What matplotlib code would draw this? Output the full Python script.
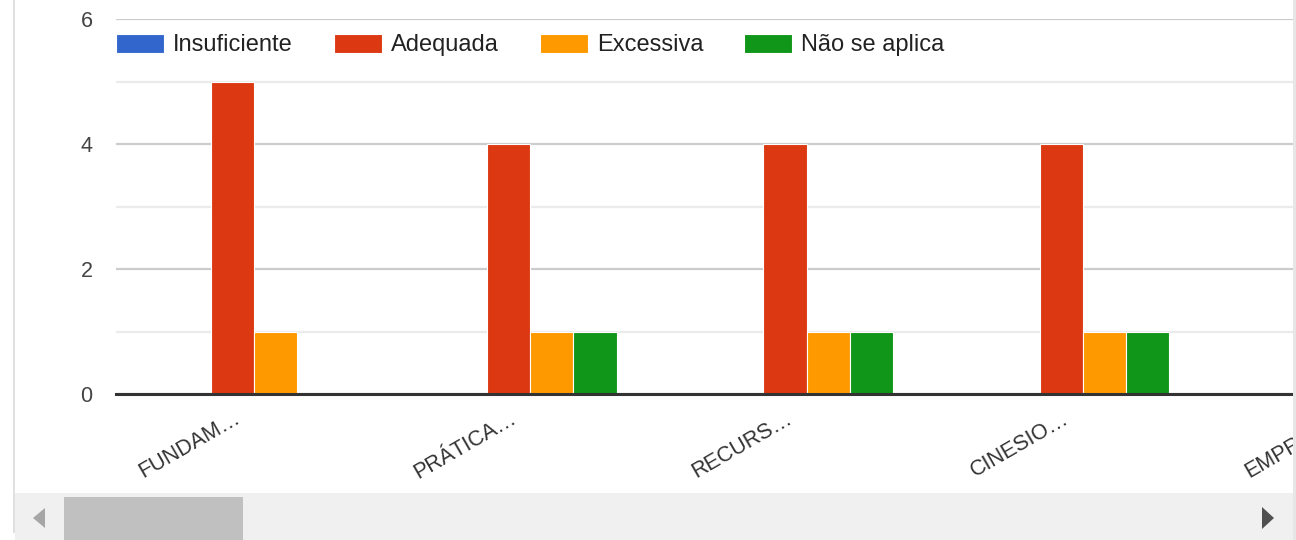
import matplotlib
matplotlib.use("Agg")
import matplotlib.pyplot as plt
import numpy as np
from matplotlib.patches import Rectangle, Polygon
from matplotlib.transforms import Bbox, TransformedBbox, ScaledTranslation

plt.rcParams['font.family'] = ['Liberation Sans', 'DejaVu Sans']

# data
categories = ["FUNDAM…", "PRÁTICA…", "RECURS…", "CINESIO…", "EMPREE…"]
series_names = ["Insuficiente", "Adequada", "Excessiva", "Não se aplica"]
insuficiente = [0, 0, 0, 0]
adequada = [5, 4, 4, 4]
excessiva = [1, 1, 1, 1]
nao_se_aplica = [0, 1, 1, 1]
series_values = [insuficiente, adequada, excessiva, nao_se_aplica]
colors = ["#3366cc", "#dc3912", "#ff9900", "#109618"]
y_major = [0, 2, 4, 6]
y_minor = [1, 3, 5]

W, H = 1296, 540
fig = plt.figure(figsize=(W / 100, H / 100), dpi=100)
fig.patch.set_facecolor("white")

# plot area in pixels: left 116, right 1293, y=0 at 394, y=6 at 19
ax = fig.add_axes([116 / W, 1 - 394 / H, (1293 - 116) / W, (394 - 19) / H])
ax.set_facecolor("white")

bar_w = 0.156
x = np.arange(len(adequada))
n = len(series_values)
for i, (name, vals, c) in enumerate(zip(series_names, series_values, colors)):
    offs = (i - (n - 1) / 2) * bar_w
    ax.bar(x + offs, vals, width=bar_w, color=c, edgecolor="white",
           linewidth=0.8, label=name, zorder=3)

ax.set_ylim(0, 6)
ax.set_xlim(-0.5, (1293 - 255) / 276)

ax.set_yticks(y_major)
ax.set_yticks(y_minor, minor=True)
ax.grid(axis="y", which="major", color="#cccccc", linewidth=1.6, zorder=0)
ax.grid(axis="y", which="minor", color="#ebebeb", linewidth=1.6, zorder=0)
ax.axhline(0, color="#333333", linewidth=2.2, zorder=4, clip_on=False)
for s in ax.spines.values():
    s.set_visible(False)
ax.tick_params(axis="y", which="both", length=0, pad=17, labelsize=15.5,
               labelcolor="#444444")
ax.set_xticks([])

# rotated category labels, anchored at their right end below each group
clip = TransformedBbox(Bbox([[0, 0], [1293 / W, 1]]), fig.transFigure)
lab_tr = ax.get_xaxis_transform() + ScaledTranslation(-16 / 100, -23 / 100, fig.dpi_scale_trans)
for i, cat in enumerate(categories):
    t = ax.text(i, 0, cat, transform=lab_tr, rotation=30, ha="right", va="center",
                rotation_mode="anchor", fontsize=15.5, color="#333333", clip_on=True)
    t.set_clip_box(clip)

fs = 17
ax.legend(loc="center left", bbox_to_anchor=(116 / W, 1 - 45 / H),
          bbox_transform=fig.transFigure, ncol=4, frameon=False,
          fontsize=fs, handlelength=48 / 23.6, handleheight=20 / 23.6,
          handletextpad=0.38, columnspacing=1.74, borderpad=0,
          borderaxespad=0, labelcolor="#222222")

# frame / scrollbar decoration (pixel coords)
def px_rect(x0, y0, x1, y1, color, z=1):
    fig.patches.append(Rectangle((x0 / W, 1 - y1 / H), (x1 - x0) / W, (y1 - y0) / H,
                                 transform=fig.transFigure, facecolor=color,
                                 edgecolor="none", zorder=z))

px_rect(13, 0, 15, 533, "#e0e0e0")
px_rect(1293, 0, 1296, 540, "#e6e6e6")
px_rect(15, 493, 1293, 540, "#f0f0f0")
px_rect(64, 497, 243, 540, "#c0c0c0", z=2)
fig.patches.append(Polygon([(45 / W, 1 - 508 / H), (45 / W, 1 - 528 / H), (33 / W, 1 - 518 / H)],
                           closed=True, transform=fig.transFigure,
                           facecolor="#a6a6a6", edgecolor="none", zorder=2))
fig.patches.append(Polygon([(1262 / W, 1 - 507 / H), (1262 / W, 1 - 529 / H), (1274 / W, 1 - 518 / H)],
                           closed=True, transform=fig.transFigure,
                           facecolor="#505050", edgecolor="none", zorder=2))

fig.savefig("out.png", dpi=100)
